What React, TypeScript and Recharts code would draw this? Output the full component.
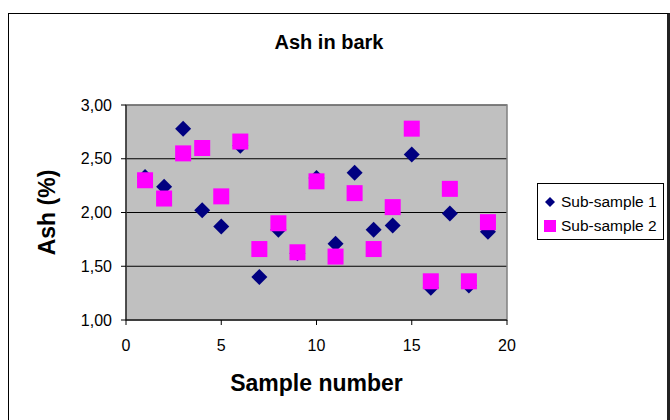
import { CartesianGrid, Label, Legend, ReferenceArea, Scatter, ScatterChart, XAxis, YAxis } from "recharts";

const samples = [1, 2, 3, 4, 5, 6, 7, 8, 9, 10, 11, 12, 13, 14, 15, 16, 17, 18, 19];
const subSample1 = [2.33, 2.24, 2.78, 2.02, 1.87, 2.62, 1.4, 1.84, 1.62, 2.32, 1.71, 2.37, 1.84, 1.88, 2.54, 1.3, 1.99, 1.32, 1.82];
const subSample2 = [2.3, 2.13, 2.55, 2.6, 2.15, 2.66, 1.66, 1.9, 1.63, 2.29, 1.59, 2.18, 1.66, 2.05, 2.78, 1.36, 2.22, 1.36, 1.91];
const xTicks = [0, 5, 10, 15, 20];
const yTicks = [1, 1.5, 2, 2.5, 3];

const series1 = samples.map((s, i) => ({ sample: s, ash: subSample1[i] }));
const series2 = samples.map((s, i) => ({ sample: s, ash: subSample2[i] }));

const FONT = "Arial, 'Liberation Sans', Helvetica, sans-serif";
const NAVY = "#000080";
const MAGENTA = "#ff00ff";

function DiamondShape(props: { cx?: number; cy?: number }) {
  const { cx = 0, cy = 0 } = props;
  const r = 8;
  return <polygon points={`${cx},${cy - r} ${cx + r},${cy} ${cx},${cy + r} ${cx - r},${cy}`} fill={NAVY} />;
}

function SquareShape(props: { cx?: number; cy?: number }) {
  const { cx = 0, cy = 0 } = props;
  return <rect x={cx - 8} y={cy - 8} width={16} height={16} fill={MAGENTA} />;
}

function YTitle(props: { viewBox?: { x: number; y: number; width: number; height: number } }) {
  const vb = props.viewBox ?? { x: 66, y: 105, width: 60, height: 215 };
  const cx = vb.x - 19;
  const cy = vb.y + vb.height / 2;
  return (
    <text
      x={cx}
      y={cy}
      transform={`rotate(-90, ${cx}, ${cy})`}
      textAnchor="middle"
      dominantBaseline="central"
      fontFamily={FONT}
      fontWeight="bold"
      fontSize={23}
      fill="#000"
    >
      Ash (%)
    </text>
  );
}

function LegendBox() {
  const items = [
    { label: "Sub-sample 1", marker: <polygon points="6,1 11,6 6,11 1,6" fill={NAVY} /> },
    { label: "Sub-sample 2", marker: <rect x={0} y={0} width={12} height={12} fill={MAGENTA} /> },
  ];
  return (
    <div
      style={{
        width: 127,
        height: 57,
        boxSizing: "border-box",
        border: "1px solid #000",
        background: "#fff",
        fontFamily: FONT,
        fontSize: 15.5,
        color: "#000",
        padding: "6px 0 0 6px",
      }}
    >
      {items.map((it) => (
        <div key={it.label} style={{ display: "flex", alignItems: "center", height: 24 }}>
          <svg width={12} height={12} style={{ marginRight: 5 }}>
            {it.marker}
          </svg>
          <span>{it.label}</span>
        </div>
      ))}
    </div>
  );
}

export default function App() {
  return (
    <div style={{ position: "absolute", left: 0, top: 0, width: 670, height: 420, overflow: "hidden", background: "#fff" }}>
      <div
        style={{
          position: "absolute",
          left: 8,
          top: 13,
          width: 658,
          height: 430,
          borderTop: "1.5px solid #000",
          borderLeft: "1.5px solid #000",
          borderRight: "3px solid #222",
        }}
      />
      <div
        style={{
          position: "absolute",
          left: 0,
          width: 658,
          top: 31,
          textAlign: "center",
          fontFamily: FONT,
          fontWeight: "bold",
          fontSize: 20,
          color: "#000",
        }}
      >
        Ash in bark
      </div>
      <div style={{ position: "absolute", left: 0, top: 0 }}>
        <ScatterChart width={670} height={420} margin={{ top: 105, right: 163, bottom: 70, left: 66 }}>
          <CartesianGrid vertical={false} stroke="#000" fill="#c0c0c0" fillOpacity={1} />
          <ReferenceArea x1={0} x2={20} y1={1} y2={3} fill="none" stroke="#808080" strokeWidth={1.5} />
          <XAxis
            type="number"
            dataKey="sample"
            domain={[0, 20]}
            ticks={xTicks}
            height={30}
            tickSize={5}
            tickMargin={15}
            axisLine={{ stroke: "#000" }}
            tickLine={{ stroke: "#000" }}
            tick={{ fill: "#000", fontSize: 16, fontFamily: FONT }}
          >
            <Label
              value="Sample number"
              position="bottom"
              offset={25}
              style={{ fontFamily: FONT, fontWeight: "bold", fontSize: 23, fill: "#000" }}
            />
          </XAxis>
          <YAxis
            type="number"
            dataKey="ash"
            domain={[1, 3]}
            ticks={yTicks}
            width={60}
            tickSize={5}
            tickMargin={9}
            axisLine={{ stroke: "#000" }}
            tickLine={{ stroke: "#000" }}
            tick={{ fill: "#000", fontSize: 16, fontFamily: FONT }}
            tickFormatter={(v: number) => v.toFixed(2).replace(".", ",")}
          >
            <Label content={<YTitle />} />
          </YAxis>
          <Legend
            layout="vertical"
            align="center"
            verticalAlign="middle"
            wrapperStyle={{ left: 537, top: 183, width: 127 }}
            content={<LegendBox />}
          />
          <Scatter name="Sub-sample 1" data={series1} shape={<DiamondShape />} isAnimationActive={false} />
          <Scatter name="Sub-sample 2" data={series2} shape={<SquareShape />} isAnimationActive={false} />
        </ScatterChart>
      </div>
    </div>
  );
}
